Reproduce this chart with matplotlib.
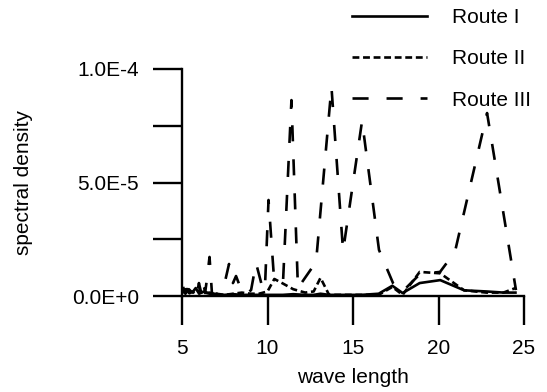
import matplotlib
matplotlib.use("Agg")
import matplotlib.pyplot as plt

plt.rcParams['font.family'] = ['Liberation Sans', 'DejaVu Sans']
plt.rcParams['font.size'] = 15

# ---- data (spectral density in units of 1e-5) ----
x_route12 = [5.0, 5.2, 5.4, 5.6, 5.8, 6.0, 6.3, 6.6, 7.0, 7.5, 8.0, 8.5, 9.0, 9.5,
             10.0, 10.4, 10.9, 11.5, 12.2, 12.7, 13.1, 13.6, 14.5, 15.5, 16.5,
             17.3, 17.9, 18.9, 20.1, 21.5, 22.8, 23.8, 24.5]
route1 = [0.25, 0.1, 0.3, 0.15, 0.35, 0.1, 0.2, 0.1, 0.05, 0.05, 0.08, 0.05, 0.05, 0.05,
          0.05, 0.05, 0.05, 0.08, 0.05, 0.05, 0.1, 0.05, 0.05, 0.05, 0.1,
          0.45, 0.13, 0.57, 0.70, 0.25, 0.2, 0.15, 0.15]
route2 = [0.15, 0.3, 0.1, 0.2, 0.1, 0.25, 0.1, 0.15, 0.1, 0.05, 0.1, 0.15, 0.1, 0.1,
          0.2, 0.75, 0.55, 0.3, 0.15, 0.2, 0.8, 0.05, 0.05, 0.05, 0.05,
          0.4, 0.05, 1.06, 1.0, 0.25, 0.15, 0.15, 0.35]

x_route3 = [5.06, 5.18, 5.29, 5.41, 5.53, 5.64, 5.76, 5.88, 5.99, 6.11, 6.23, 6.35, 6.46,
            6.61, 6.75, 6.93, 7.16, 7.40, 7.75, 7.98, 8.16, 8.51, 8.74, 9.04, 9.33,
            9.74, 9.85, 10.06, 10.38, 10.91, 11.40, 11.78, 12.84, 13.74, 14.42,
            15.53, 16.52, 17.34, 17.87, 18.92, 20.09, 20.96, 22.84, 24.53]
route3 = [0.40, 0.18, 0.31, 0.13, 0.35, 0.18, 0.26, 0.13, 0.57, 0.18, 0.70, 0.13, 0.75,
          1.72, 0.13, 0.09, 0.13, 0.26, 1.41, 0.57, 0.88, 0.18, 0.09, 0.26, 1.45,
          0.26, 0.35, 4.23, 0.79, 0.66, 8.63, 0.35, 1.50, 9.21, 1.98,
          7.71, 2.03, 0.57, 0.18, 0.97, 1.06, 1.94, 8.06, 0.26]

labels = ['Route I', 'Route II', 'Route III']
xticks = [5, 10, 15, 20, 25]
yticks_major = [0.0, 5e-5, 1e-4]
ytick_labels = ['0.0E+0', '5.0E-5', '1.0E-4']
yticks_minor = [2.5e-5, 7.5e-5]

scale = 1e-5

fig = plt.figure(figsize=(5.47, 3.92), dpi=100)
ax = fig.add_axes([182/547, 1-296/392, (524-182)/547, (296-69)/392])

lw = 1.9
ax.plot(x_route12, [v*scale for v in route1], color='black', lw=lw,
        linestyle='-', label=labels[0])
ax.plot(x_route12, [v*scale for v in route2], color='black', lw=lw,
        linestyle=(0, (2.6, 1.4)), label=labels[1])
ax.plot(x_route3, [v*scale for v in route3], color='black', lw=lw,
        linestyle=(0, (6.1, 6.8)), label=labels[2])

ax.set_xlim(5, 25)
ax.set_ylim(0, 1e-4)
ax.set_xticks(xticks)
ax.set_xticklabels([str(t) for t in xticks])
ax.set_yticks(yticks_major)
ax.set_yticklabels(ytick_labels)
ax.set_yticks(yticks_minor, minor=True)

for s in ['top', 'right']:
    ax.spines[s].set_visible(False)
for s in ['left', 'bottom']:
    ax.spines[s].set_linewidth(1.7)

ax.tick_params(axis='both', which='both', direction='out', length=21, width=1.7,
               labelsize=15, pad=10)

ax.set_xlabel('wave length', fontsize=15, labelpad=7)
ax.set_ylabel('spectral density', fontsize=15, labelpad=28)

leg = ax.legend(loc='upper left', bbox_to_anchor=(348/547, 1 - 4/392), bbox_transform=fig.transFigure,
                frameon=False, handlelength=3.6, handletextpad=1.2, labelspacing=1.07,
                fontsize=15, borderaxespad=0.0, borderpad=0.2)

fig.savefig('out.png', dpi=100)
